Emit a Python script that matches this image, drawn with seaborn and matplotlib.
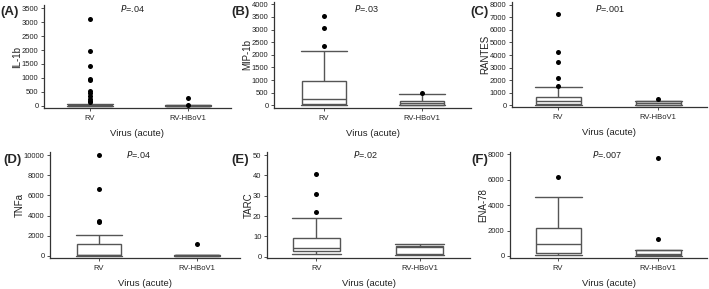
import numpy as np
import pandas as pd
import matplotlib
matplotlib.use("Agg")
import matplotlib.pyplot as plt
import seaborn as sns

sns.set_theme(style="ticks")
plt.rcParams['font.family'] = ['Liberation Sans', 'DejaVu Sans']

groups = ["RV", "RV-HBoV1"]
panel_labels = ["(A)", "(B)", "(C)", "(D)", "(E)", "(F)"]
cytokines = ["IL-1b", "MIP-1b", "RANTES", "TNFa", "TARC", "ENA-78"]
p_values = [".04", ".03", ".001", ".04", ".02", ".007"]

# box summaries per group: [lower whisker, Q1, median, Q3, upper whisker]
rv_boxes = [
    [0, 5, 15, 40, 70],
    [0, 50, 240, 950, 2165],
    [0, 105, 370, 690, 1430],
    [0, 60, 100, 1155, 2080],
    [1.3, 2.8, 4.4, 9, 18.9],
    [50, 210, 915, 2170, 4630],
]
hbov_boxes = [
    [0, 2, 8, 15, 20],
    [0, 20, 90, 185, 450],
    [0, 50, 150, 345, 345],
    [0, 40, 70, 100, 110],
    [1.0, 1.2, 4.6, 5.2, 6.0],
    [0, 80, 150, 470, 470],
]
# outliers per group
rv_outliers = [
    [3100, 1975, 1440, 980, 920, 530, 470, 340, 250, 190, 130],
    [3540, 3060, 2360],
    [7260, 4210, 3470, 2200, 1540],
    [10000, 6600, 3470, 3330],
    [40.5, 30.8, 22.0],
    [6220],
]
hbov_outliers = [
    [265, 15],
    [500],
    [530],
    [1155],
    [],
    [7710, 1310],
]
y_ticks = [
    np.arange(0, 3501, 500),
    np.arange(0, 4001, 500),
    np.arange(0, 8001, 1000),
    np.arange(0, 10001, 2000),
    np.arange(0, 51, 10),
    np.arange(0, 8001, 2000),
]

W, H = 709, 289
fig = plt.figure(figsize=(W / 100, H / 100), dpi=100)

# layout in pixels: left, right, top, bottom of axes; ylim; xlim
layout = [
    (44, 231, 5, 108, (-75, 3610), (-0.47, 1.44)),
    (274, 471, 2, 108, (-107, 4090), (-0.505, 1.5)),
    (512, 707, 2, 107, (-135, 8215), (-0.46, 1.49)),
    (50, 240, 152, 258, (-200, 10300), (-0.5, 1.44)),
    (267, 470, 152, 258, (-0.65, 51.5), (-0.48, 1.49)),
    (510, 707, 152, 258, (-157, 8160), (-0.48, 1.49)),
]
label_pos = [(0, 12), (231, 12), (470, 12), (3, 160), (231, 160), (471, 160)]
p_pos = [(132, 9), (366, 8), (610, 8), (138, 155), (365, 155), (607, 155)]

line_col = "#555555"
for i in range(6):
    l, r, t, b, ylim, xlim = layout[i]
    ax = fig.add_axes([l / W, 1 - b / H, (r - l) / W, (b - t) / H])
    box_df = pd.DataFrame({
        "Virus": [groups[0]] * 5 + [groups[1]] * 5,
        "value": rv_boxes[i] + hbov_boxes[i],
    })
    out_df = pd.DataFrame({
        "Virus": [groups[0]] * len(rv_outliers[i]) + [groups[1]] * len(hbov_outliers[i]),
        "value": rv_outliers[i] + hbov_outliers[i],
    })
    sns.boxplot(data=box_df, x="Virus", y="value", order=groups, ax=ax,
                whis=(0, 100), showfliers=False, width=0.45,
                color="white", linecolor=line_col, linewidth=1.0,
                capwidths=0.47)
    if len(out_df):
        sns.stripplot(data=out_df, x="Virus", y="value", order=groups, ax=ax,
                      jitter=False, color="black", size=3.6, linewidth=0)
    ax.set_xlim(*xlim)
    ax.set_ylim(*ylim)
    ax.set_yticks(y_ticks[i])
    ax.set_yticklabels([str(v) for v in y_ticks[i]])
    for s in ["top", "right"]:
        ax.spines[s].set_visible(False)
    for s in ["left", "bottom"]:
        ax.spines[s].set_color("#333333")
        ax.spines[s].set_linewidth(0.9)
    ax.tick_params(axis="both", labelsize=5.5, length=2, width=0.6, pad=2,
                   colors="#333333", labelcolor="#222222")
    ax.tick_params(axis="x", pad=3)
    ax.set_xlabel("Virus (acute)", fontsize=6.8, color="#222222", labelpad=5)
    ax.set_ylabel(cytokines[i], fontsize=7, color="#222222", labelpad=-0.5)
    fig.text(label_pos[i][0] / W, 1 - label_pos[i][1] / H, panel_labels[i],
             fontsize=9.5, fontweight="bold", ha="left", va="center")
    fig.text(p_pos[i][0] / W, 1 - p_pos[i][1] / H,
             r"$\it{P}$" + "=" + p_values[i], fontsize=6.5,
             ha="center", va="center", color="#222222")

fig.savefig("out.png", dpi=100)
